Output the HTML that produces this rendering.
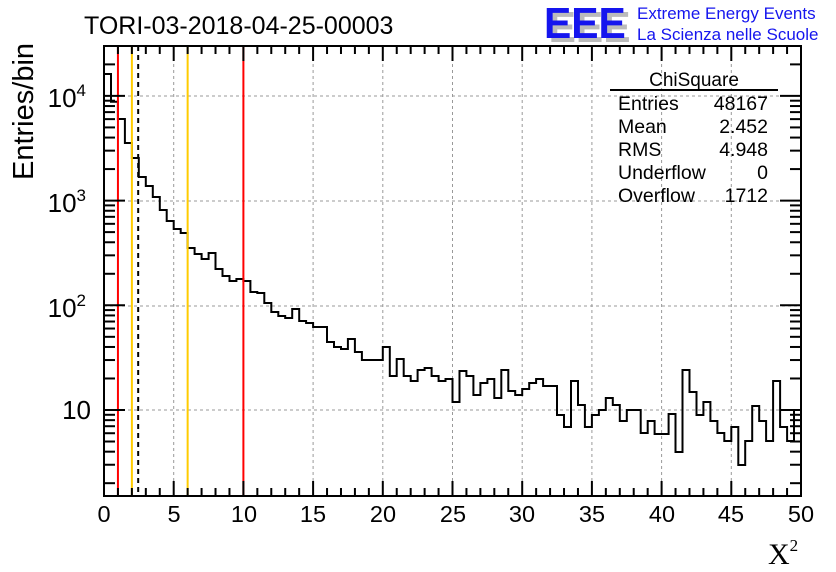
<!DOCTYPE html>
<html><head><meta charset="utf-8"><style>
html,body{margin:0;padding:0;background:#fff;}
svg{display:block;font-family:"Liberation Sans",sans-serif;}
</style></head><body>
<svg id="s" width="836" height="572" viewBox="0 0 836 572" xmlns="http://www.w3.org/2000/svg">
<rect width="836" height="572" fill="#fff"/>
<g id="grid" stroke="#999" stroke-width="1" stroke-dasharray="3,3"></g>
<path id="hist" fill="none" stroke="#000" stroke-width="2"/>
<g id="vl"></g>
<g id="ticks" stroke="#000" stroke-width="2"></g>
<rect x="104" y="46" width="697" height="450" fill="none" stroke="#000" stroke-width="2"/>
<text x="84" y="34" font-size="25">TORI-03-2018-04-25-00003</text>
<g font-size="44" font-weight="bold" transform="translate(544,38) scale(0.93,1)">
<text x="5" y="4" fill="#bbb">EEE</text>
<text x="0" y="0" fill="#1515ee">EEE</text>
</g>
<text x="637" y="19" font-size="17" fill="#1515ee">Extreme Energy Events</text>
<text x="637" y="40" font-size="17" fill="#1515ee">La Scienza nelle Scuole</text>
<text x="694" y="86" font-size="19" text-anchor="middle">ChiSquare</text>
<line x1="610" y1="90" x2="778" y2="90" stroke="#000" stroke-width="2"/>
<g font-size="19.5">
<text x="618" y="110">Entries</text><text x="768" y="110" text-anchor="end">48167</text>
<text x="618" y="133">Mean</text><text x="768" y="133" text-anchor="end">2.452</text>
<text x="618" y="156">RMS</text><text x="768" y="156" text-anchor="end">4.948</text>
<text x="618" y="179">Underflow</text><text x="768" y="179" text-anchor="end">0</text>
<text x="618" y="202">Overflow</text><text x="768" y="202" text-anchor="end">1712</text>
</g>
<g font-size="23.5" text-anchor="middle">
<text x="104" y="522">0</text><text x="174" y="522">5</text><text x="244" y="522">10</text><text x="313" y="522">15</text><text x="383" y="522">20</text><text x="453" y="522">25</text><text x="522" y="522">30</text><text x="592" y="522">35</text><text x="662" y="522">40</text><text x="731" y="522">45</text><text x="801" y="522">50</text>
</g>
<g font-size="26" text-anchor="end">
<text x="86" y="107">10<tspan font-size="17" dy="-11">4</tspan></text>
<text x="86" y="212">10<tspan font-size="17" dy="-11">3</tspan></text>
<text x="86" y="317">10<tspan font-size="17" dy="-11">2</tspan></text>
<text x="91" y="419">10</text>
</g>
<text transform="translate(33,180) rotate(-90)" font-size="29">Entries/bin</text>
<text x="768" y="564" font-size="30" font-family="'Liberation Serif',serif">X<tspan font-size="17" dy="-13">2</tspan></text>
</svg>
<script>
var ys=[74,101.7,119,143,158,177,186,197,210,221,229,233,248,254,259,253,269,276,281,279,281,292,293,303,312,316,318,309,321,323,327,327,342,347,349,339,352,360,360,360,347,376,359,376,381,370,368,376,381,379,402,371,376,395,383,379,398,370,391,395,389,383,379,386,386,415,427,381,405,427,415,410,398,405,421,410,410,433,421,434,434,414,452,370,392,415,402,421,433,441,427,465,441,406,421,441,381,427,441,410];
var X=function(v){return 104+v*697/50;};
var d="M104,496";
for(var i=0;i<100;i++){d+=" L"+X(i*0.5).toFixed(1)+","+ys[i]+" L"+X(i*0.5+0.5).toFixed(1)+","+ys[i];}
d+=" L801,496";
document.getElementById("hist").setAttribute("d",d);
var ns="http://www.w3.org/2000/svg";
function L(g,x1,y1,x2,y2,attrs){var l=document.createElementNS(ns,"line");l.setAttribute("x1",x1);l.setAttribute("y1",y1);l.setAttribute("x2",x2);l.setAttribute("y2",y2);if(attrs)for(var k in attrs)l.setAttribute(k,attrs[k]);g.appendChild(l);}
var g=document.getElementById("grid");
for(var v=5;v<50;v+=5)L(g,X(v),46,X(v),496);
var dec=[96,201,306,410];var pd=104.7;
dec.forEach(function(y){L(g,104,y,801,y);});
var t=document.getElementById("ticks");
for(var v=0;v<=50;v++){var len=(v%5==0)?15:8;L(t,X(v),496,X(v),496-len);L(t,X(v),46,X(v),46+len);}
var Y=function(lv){return 410-(lv-1)*pd;};
for(var e=0;e<5;e++){for(var k=1;k<10;k++){var y=Y(e+Math.log10(k));if(y<46||y>496)continue;var len=(k==1)?21:11;L(t,104,y,104+len,y);L(t,801,y,801-len,y);}}
var vl=document.getElementById("vl");
L(vl,X(1),46,X(1),496,{stroke:"#f00","stroke-width":2});
L(vl,X(2),46,X(2),496,{stroke:"#fc0","stroke-width":2});
L(vl,X(2.452),46,X(2.452),496,{stroke:"#000","stroke-width":2,"stroke-dasharray":"5,4"});
L(vl,X(6),46,X(6),496,{stroke:"#fc0","stroke-width":2});
L(vl,X(10),46,X(10),496,{stroke:"#f00","stroke-width":2});
</script>
</body></html>
